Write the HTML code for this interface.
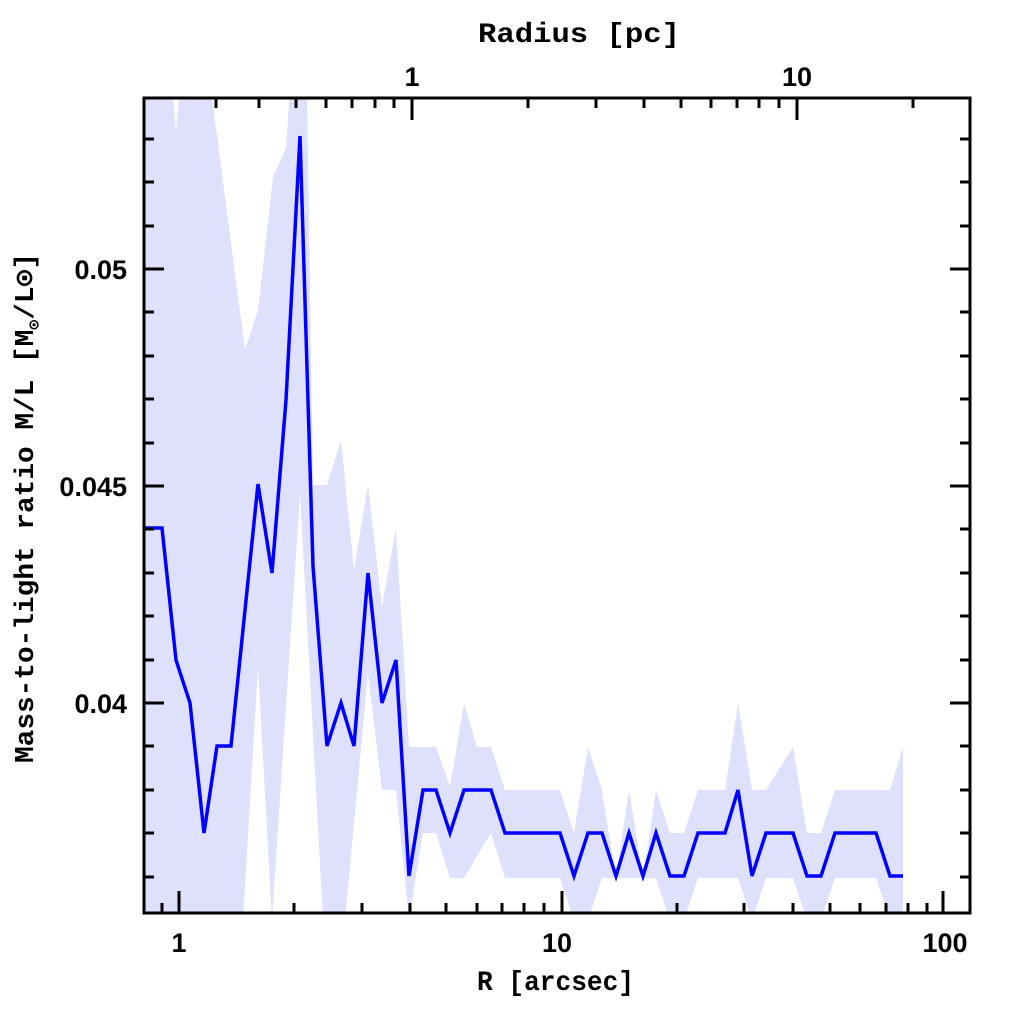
<!DOCTYPE html>
<html><head><meta charset="utf-8"><style>
html,body{margin:0;padding:0;background:#fff;}
svg{display:block;}
text{font-family:"Liberation Sans","DejaVu Sans",sans-serif;font-weight:bold;fill:#000;}
text.m{font-family:"Liberation Mono","DejaVu Sans Mono",monospace;}
</style></head><body>
<svg width="1024" height="1024" viewBox="0 0 1024 1024" xmlns="http://www.w3.org/2000/svg">
<defs><clipPath id="c"><rect x="145" y="98" width="825" height="815"/></clipPath></defs>
<g clip-path="url(#c)">
<polygon fill="#dfe0fb" points="143,90 172,90 176,130 180,90 211,90 245,350 258,310 273,177 286,148 290,90 307,90 313,485 327,485 341,440 354,570 368,485 382,607 396,528 409,747 436,747 450,787 464,703 477,747 491,747 505,790 560,790 574,833 588,747 602,790 616,878 629,790 643,878 656,790 670,833 684,833 698,790 725,790 738,703 752,790 766,790 793,747 807,833 821,833 835,790 876,790 890,790 903,747 903,920 890,920 876,878 835,878 821,920 807,920 793,878 766,878 752,920 738,878 698,878 684,920 670,920 656,878 602,878 588,920 574,920 560,878 505,878 491,833 464,878 450,878 436,833 423,833 409,920 396,790 382,790 368,673 345,920 323,920 300,493 272,920 258,667 243,920 143,920"/>
<polyline fill="none" stroke="#0000ff" stroke-width="3.5" stroke-linejoin="miter" points="143,528 162,528 176,660 190,703 204,833 217,746 231,746 258,484 272,573 286,400 300,136 313,566 327,746 341,703 354,746 368,573 382,703 396,660 409,876 423,790 436,790 450,833 464,790 491,790 505,833 560,833 574,876 588,833 602,833 616,876 629,833 643,876 656,833 670,876 684,876 698,833 725,833 738,790 752,876 766,833 793,833 807,876 821,876 835,833 876,833 890,876 903,876"/>
</g>
<rect x="144" y="98" width="826" height="815" fill="none" stroke="#000" stroke-width="3"/>
<g stroke="#000" stroke-width="3">
<path d="M144,269h20M144,486h20M144,703h20M970,269h-20M970,486h-20M970,703h-20"/>
<path d="M144,139h10M144,182h10M144,226h10M144,312h10M144,356h10M144,399h10M144,443h10M144,529h10M144,573h10M144,616h10M144,660h10M144,746h10M144,790h10M144,833h10M144,877h10
M970,139h-10M970,182h-10M970,226h-10M970,312h-10M970,356h-10M970,399h-10M970,443h-10M970,529h-10M970,573h-10M970,616h-10M970,660h-10M970,746h-10M970,790h-10M970,833h-10M970,877h-10"/>
<path d="M179,913v-22M562,913v-22M943,913v-22"/>
<path d="M162,913v-10M294,913v-10M362,913v-10M410,913v-10M446,913v-10M477,913v-10M502,913v-10M524,913v-10M544,913v-10M677,913v-10M744,913v-10M793,913v-10M830,913v-10M860,913v-10M886,913v-10M908,913v-10M927,913v-10"/>
<path d="M412,98v22M797,98v22"/>
<path d="M216,98v10M259,98v10M296,98v10M326,98v10M352,98v10M375,98v10M394,98v10M528,98v10M596,98v10M644,98v10M681,98v10M711,98v10M737,98v10M759,98v10M779,98v10M913,98v10"/>
</g>
<text class="m" x="478" y="42" font-size="28" textLength="202" lengthAdjust="spacingAndGlyphs">Radius [pc]</text>
<text x="412" y="86" font-size="27" text-anchor="middle">1</text>
<text x="797" y="86" font-size="27" text-anchor="middle">10</text>
<text x="179" y="952" font-size="27" text-anchor="middle">1</text>
<text x="557" y="952" font-size="27" text-anchor="middle">10</text>
<text x="945" y="952" font-size="27" text-anchor="middle">100</text>
<text class="m" x="477" y="990" font-size="28" textLength="157" lengthAdjust="spacingAndGlyphs">R [arcsec]</text>
<text x="127" y="279" font-size="27" text-anchor="end">0.05</text>
<text x="127" y="496" font-size="27" text-anchor="end">0.045</text>
<text x="127" y="713" font-size="27" text-anchor="end">0.04</text>
<text class="m" transform="translate(33,763) rotate(-90)" font-size="27" textLength="510" lengthAdjust="spacingAndGlyphs">Mass-to-light ratio M/L [M<tspan font-size="16" dy="6">⊙</tspan><tspan dy="-6">/L⊙]</tspan></text>
</svg>
</body></html>
